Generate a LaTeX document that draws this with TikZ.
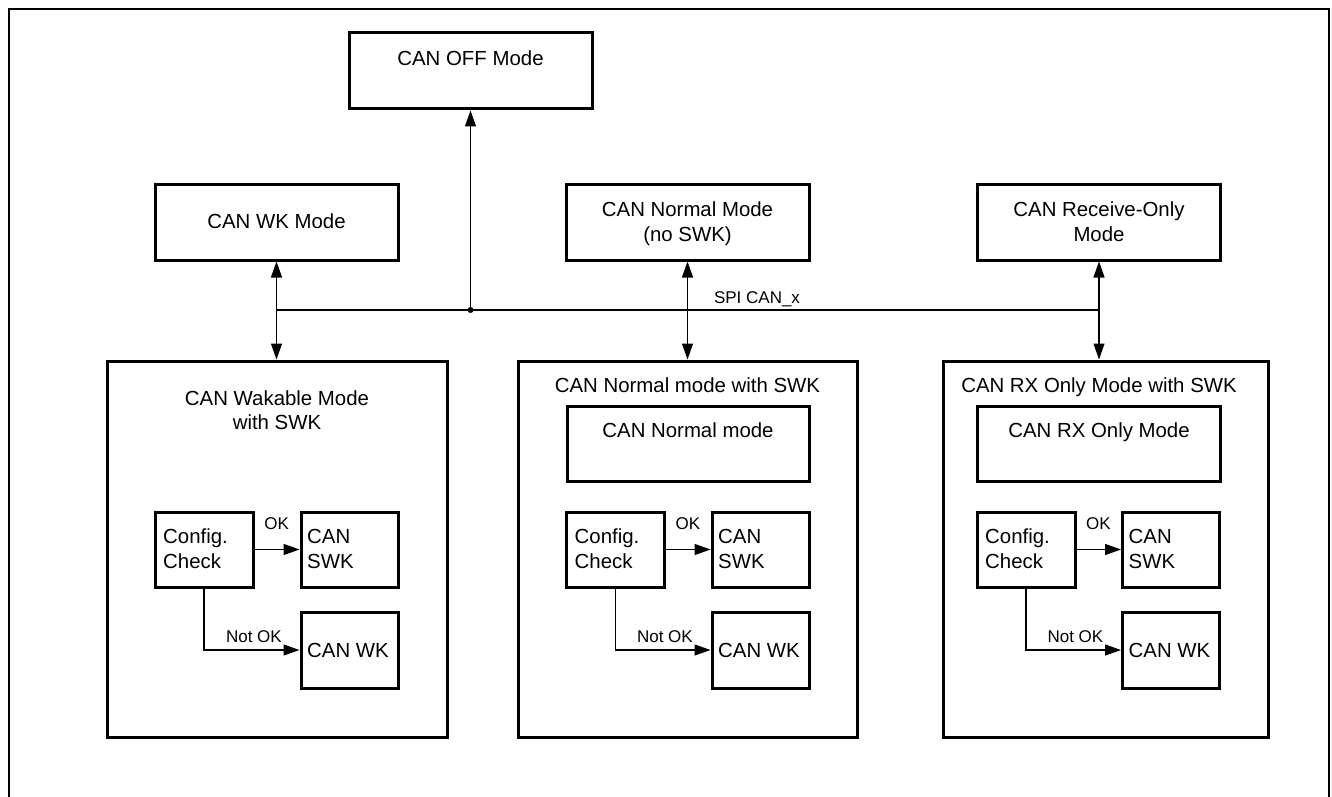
\documentclass[tikz,border=0pt]{standalone}
\usepackage{fontspec}
\setmainfont{Liberation Sans}
\usetikzlibrary{arrows.meta,calc}
\begin{document}
\begin{tikzpicture}[x=1pt,y=-1pt,
  box/.style={draw,line width=3pt,rectangle,inner sep=0pt},
  conn/.style={line width=1.2pt},
  tip/.style={-{Triangle[length=16pt,width=11pt]}},
  tips/.style={{Triangle[length=16pt,width=11pt]}-{Triangle[length=16pt,width=11pt]}},
  big/.style={font=\fontsize{20.4}{24}\selectfont,inner sep=0pt,anchor=base},
  small/.style={font=\fontsize{17}{20}\selectfont,inner sep=0pt,anchor=base}]
\useasboundingbox (0,0) rectangle (1332,797);
% outer frame
\draw[line width=1.2pt] (9,797) -- (9,9) -- (1329,9) -- (1329,797);

% upper mode boxes
\node[box,minimum width=243pt,minimum height=76pt] (off) at (470.5,71) {};
\node[box,minimum width=243pt,minimum height=76pt] (wkm) at (276.5,222) {};
\node[box,minimum width=243pt,minimum height=76pt] (nrm) at (687.5,222) {};
\node[box,minimum width=243pt,minimum height=76pt] (rxm) at (1099,222) {};
\node[big] (toff) at (470.5,66) {CAN OFF Mode};
\node[big] (twkm) at (276.5,228) {CAN WK Mode};
\node[big] (tnrm1) at (687.5,216) {CAN Normal Mode};
\node[big] (tnrm2) at (687.5,241) {(no SWK)};
\node[big] (trxm1) at (1099,216) {CAN Receive-Only};
\node[big] (trxm2) at (1099,241) {Mode};

% lower big boxes
\node[box,minimum width=340pt,minimum height=376pt] (wak) at (277,549) {};
\node[box,minimum width=339pt,minimum height=376pt] (nsw) at (687.5,549) {};
\node[box,minimum width=325pt,minimum height=376pt] (rsw) at (1105.5,549) {};
\node[big] (twak1) at (277,405) {CAN Wakable Mode};
\node[big] (twak2) at (277,429) {with SWK};
\node[big] (tnsw) at (687.5,392) {CAN Normal mode with SWK};
\node[big] (trsw) at (1099,392) {CAN RX Only Mode with SWK};

% inner mode boxes
\node[box,minimum width=242pt,minimum height=75pt] (nmi) at (688,443.5) {};
\node[box,minimum width=243pt,minimum height=75pt] (rxi) at (1098.5,443.5) {};
\node[big] (tnmi) at (688,437) {CAN Normal mode};
\node[big] (trxi) at (1099,437) {CAN RX Only Mode};

% config check blocks
\foreach \i/\cx/\sx in {1/204/349.5, 2/615.5/760.5, 3/1026/1171} {
  \node[box,minimum width=98pt,minimum height=75pt] (cfg\i) at (\cx,549.5) {};
  \node[box,minimum width=97pt,minimum height=75pt] (swk\i) at (\sx,549.5) {};
  \node[box,minimum width=97pt,minimum height=76pt] (wk\i) at (\sx,650) {};
  \node[big,anchor=base west] (tcfga\i) at (\cx-41,543) {Config.};
  \node[big,anchor=base west] (tcfgb\i) at (\cx-41,568) {Check};
  \node[big,anchor=base west] (tswka\i) at (\sx-42.5,543) {CAN};
  \node[big,anchor=base west] (tswkb\i) at (\sx-42.5,568) {SWK};
  \node[big,anchor=base west] (twk\i) at (\sx-42.5,657) {CAN WK};
  \draw[conn,tip] (cfg\i.east) -- (cfg\i.east -| swk\i.west);
  \draw[conn,tip] (cfg\i.south) |- (wk\i.west);
  \node[small] (ok\i) at ({(\cx+\sx)/2},529) {OK};
  \node[small,anchor=base east] (nok\i) at (\sx-67.5,642) {Not OK};
}

% bus
\coordinate (j) at (470.5,310);
\draw[conn] (wkm.south |- j) -- (rxm.south |- j);
\fill (j) circle (3pt);
\draw[conn,tip] (j) -- (off.south);
\draw[conn,tips] (wkm.south) -- (wkm.south |- wak.north);
\draw[conn,tips] (nrm.south) -- (nrm.south |- nsw.north);
\draw[conn,tips] (rxm.south) -- (rxm.south |- rsw.north);
\node[small] (spi) at (757,303) {SPI CAN\_x};
\end{tikzpicture}
\end{document}
